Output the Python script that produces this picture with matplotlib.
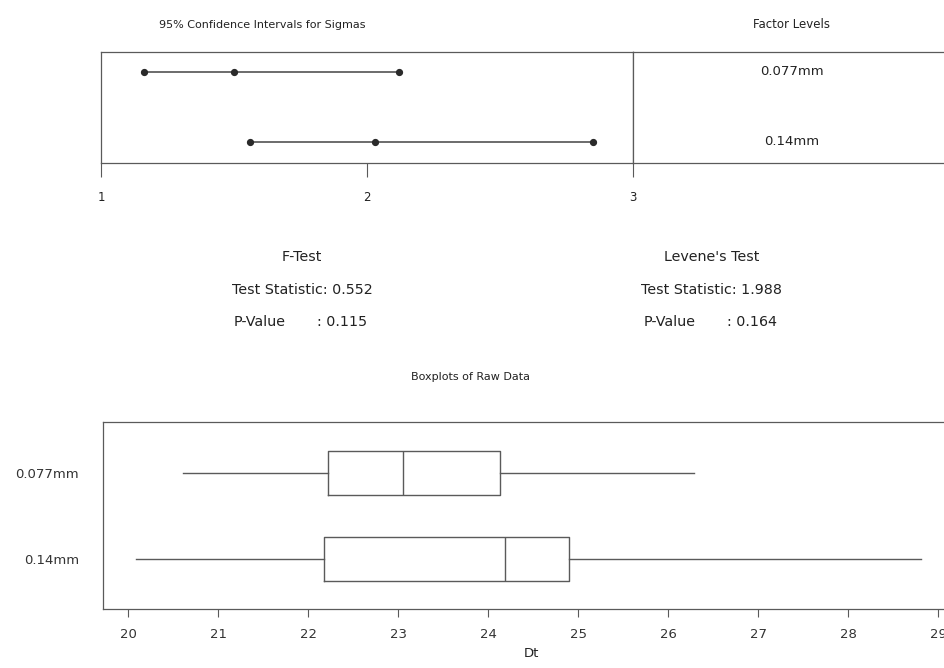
import matplotlib
matplotlib.use("Agg")
import matplotlib.pyplot as plt

# factor levels, top to bottom
levels = ["0.077mm", "0.14mm"]

# 95% confidence intervals for sigma: lower, estimate, upper
ci_lower = [1.16, 1.56]
ci_sigma = [1.50, 2.03]
ci_upper = [2.12, 2.85]

# test results
f_stat = 0.552
f_pvalue = 0.115
levene_stat = 1.988
levene_pvalue = 0.164

# boxplot summaries of Dt
whisk_lo = [20.61, 20.09]
q1 = [22.22, 22.17]
median = [23.05, 24.19]
q3 = [24.13, 24.90]
whisk_hi = [26.28, 28.81]

W, H = 945, 668
line_col = "#5a5a5a"
text_col = "#222222"

fig = plt.figure(figsize=(W / 100, H / 100), dpi=100)
plt.rcParams['font.family'] = ['DejaVu Sans']


def fx(px):
    return px / W


def fy(py):
    return 1 - py / H


# confidence interval panel
ax_ci = fig.add_axes([fx(101), fy(163), fx(633 - 101), fy(52) - fy(163)])
rows = [2, 1]
for i in range(len(levels)):
    ax_ci.plot([ci_lower[i], ci_upper[i]], [rows[i], rows[i]], color="#444444", lw=1.1)
    ax_ci.plot([ci_lower[i], ci_sigma[i], ci_upper[i]], [rows[i]] * 3, "o",
               color="#2a2a2a", ms=4.2)
ax_ci.set_xlim(1, 3)
ax_ci.set_ylim(0.694, 2.286)
ax_ci.set_yticks([])
ax_ci.set_xticks([1, 2, 3])
ax_ci.set_xticklabels(["1", "2", "3"])
ax_ci.tick_params(axis="x", length=10, width=0.8, color=line_col, labelsize=8.5,
                  labelcolor=text_col, pad=10)
for s in ax_ci.spines.values():
    s.set_color(line_col)
    s.set_linewidth(0.9)

# factor level names panel
ax_lv = fig.add_axes([fx(633), fy(163), fx(960 - 633), fy(52) - fy(163)])
ax_lv.set_xlim(0, 1)
ax_lv.set_ylim(0.694, 2.286)
ax_lv.set_xticks([])
ax_lv.set_yticks([])
for i, name in enumerate(levels):
    ax_lv.text(fx(792 - 633) / fx(960 - 633), rows[i], name, ha="center", va="center",
               fontsize=9.5, color=text_col)
for s in ax_lv.spines.values():
    s.set_color(line_col)
    s.set_linewidth(0.9)

fig.text(fx(262), fy(25), "95% Confidence Intervals for Sigmas", ha="center", va="center",
         fontsize=8, color=text_col)
fig.text(fx(792), fy(25), "Factor Levels", ha="center", va="center",
         fontsize=8.5, color=text_col)

# test statistics
fig.canvas.draw()
renderer = fig.canvas.get_renderer()
for cx, title, stat, pval in [(302, "F-Test", f_stat, f_pvalue),
                              (712, "Levene's Test", levene_stat, levene_pvalue)]:
    fig.text(fx(cx), fy(257), title, ha="center", va="center", fontsize=10.3, color=text_col)
    t = fig.text(fx(cx), fy(290), "Test Statistic: %.3f" % stat, ha="center", va="center",
                 fontsize=10.3, color=text_col)
    bb = t.get_window_extent(renderer)
    fig.text(bb.x0 / W + 0.002, fy(322), "P-Value", ha="left", va="center",
             fontsize=10.3, color=text_col)
    fig.text(bb.x1 / W - 0.006, fy(322), ": %.3f" % pval, ha="right", va="center",
             fontsize=10.3, color=text_col)

# boxplots of raw data
ax_bx = fig.add_axes([fx(102.7), fy(609), fx(960 - 102.7), fy(422) - fy(609)])
stats = []
for i, name in enumerate(levels):
    stats.append({"label": name, "whislo": whisk_lo[i], "q1": q1[i], "med": median[i],
                  "q3": q3[i], "whishi": whisk_hi[i], "fliers": []})
ax_bx.bxp(stats, positions=rows, widths=0.51, orientation="horizontal", showcaps=False,
          boxprops=dict(color=line_col, lw=1.0),
          whiskerprops=dict(color=line_col, lw=1.0),
          medianprops=dict(color=line_col, lw=1.0))
ax_bx.set_xlim(19.715, 20 + (960 - 128.3) / 90)
ax_bx.set_ylim(0.422, 2.587)
ax_bx.set_xticks(range(20, 30))
ax_bx.set_xticklabels([str(v) for v in range(20, 30)])
ax_bx.tick_params(axis="x", length=6, width=0.8, color=line_col, labelsize=9.5,
                  labelcolor="#333333", pad=8)
ax_bx.tick_params(axis="y", length=0, labelsize=9.5, labelcolor="#333333", pad=17)
for s in ax_bx.spines.values():
    s.set_color(line_col)
    s.set_linewidth(0.9)
ax_bx.set_xlabel("Dt", fontsize=9.5, color=text_col, labelpad=4)

fig.text(fx(471), fy(377), "Boxplots of Raw Data", ha="center", va="center",
         fontsize=8, color=text_col)

fig.savefig("out.png", dpi=100)
